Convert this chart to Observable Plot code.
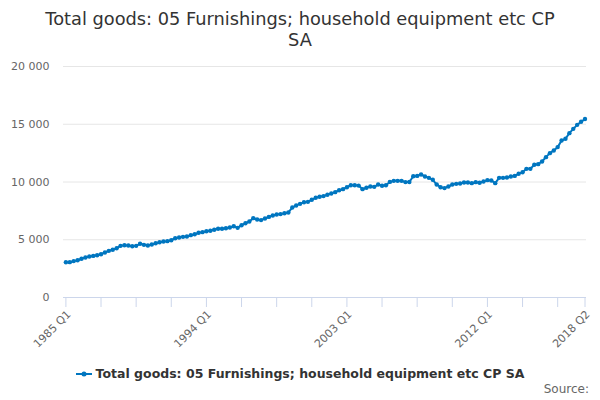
<!DOCTYPE html>
<html>
<head>
<meta charset="utf-8">
<script src="https://cdn.jsdelivr.net/npm/d3@7"></script>
<script src="https://cdn.jsdelivr.net/npm/@observablehq/plot@0.6"></script>
<style>
  html, body { margin: 0; padding: 0; background: #fff; }
  body { width: 600px; height: 400px; position: relative; overflow: hidden; font-family: "DejaVu Sans", sans-serif; }
  #title { position: absolute; top: 8px; left: 0; width: 600px; text-align: center; font-size: 17.8px; line-height: 21px; color: #333; }
  #chart { position: absolute; top: 56px; left: 0; }
  #legend { position: absolute; top: 366px; left: 0; width: 600px; text-align: center; font-size: 12.5px; font-weight: bold; color: #333; }
  #legend svg { vertical-align: middle; margin-right: 4px; position: relative; top: -1px; }
  #source { position: absolute; top: 382px; right: 11px; font-size: 12px; color: #666; }
</style>
</head>
<body>
<div id="title">Total goods: 05 Furnishings; household equipment etc CP<br>SA</div>
<div id="chart"></div>
<div id="legend"><svg width="16" height="8"><line x1="0" y1="4" x2="16" y2="4" stroke="#0076c0" stroke-width="2"/><circle cx="8" cy="4" r="2.5" fill="#0076c0"/></svg>Total goods: 05 Furnishings; household equipment etc CP SA</div>
<div id="source">Source:</div>
<script>
const seriesName = "Total goods: 05 Furnishings; household equipment etc CP SA";
const startYear = 1985;
const values = [
  3050, 3060, 3150, 3230, 3350, 3460, 3550, 3600, 3660, 3750,
  3900, 4040, 4130, 4270, 4470, 4530, 4500, 4440, 4470, 4650,
  4560, 4500, 4590, 4700, 4790, 4850, 4880, 4960, 5130, 5200,
  5250, 5280, 5400, 5480, 5600, 5660, 5740, 5780, 5860, 5950,
  5950, 6000, 6060, 6170, 6030, 6260, 6430, 6580, 6870, 6750,
  6700, 6840, 6980, 7100, 7190, 7220, 7300, 7360, 7790, 7970,
  8110, 8250, 8280, 8460, 8630, 8720, 8780, 8900, 9000, 9120,
  9290, 9380, 9550, 9720, 9720, 9690, 9380, 9500, 9610, 9580,
  9780, 9670, 9720, 10010, 10100, 10100, 10100, 9990, 10000, 10500,
  10530, 10650, 10480, 10360, 10190, 9780, 9550, 9470, 9610, 9780,
  9840, 9870, 9960, 9960, 9900, 9985, 9930, 10040, 10160, 10130,
  9900, 10360, 10360, 10390, 10480, 10530, 10710, 10850, 11140, 11140,
  11490, 11545, 11775, 12150, 12500, 12730, 13020, 13590, 13740, 14230,
  14600, 14950, 15210, 15450
];
const yTicks = [0, 5000, 10000, 15000, 20000];
const tickEvery = 9;
const labelEvery = 36;

const quarterLabel = i => `${startYear + Math.floor(i / 4)} Q${(i % 4) + 1}`;
const data = values.map((v, i) => ({i, label: quarterLabel(i), value: v}));
const last = values.length - 1;
const tickIdx = d3.range(0, last + 1, tickEvery).concat([last]);
const labelIdx = d3.range(0, last + 1, labelEvery).concat([last]);
const fmt = v => d3.format(",")(v).replace(/,/g, " ");
const blue = "#0076c0";

const chart = Plot.plot({
  width: 600,
  height: 300,
  marginTop: 10,
  marginBottom: 59,
  marginLeft: 63,
  marginRight: 14,
  style: {fontFamily: "DejaVu Sans, sans-serif", fontSize: "11px", color: "#666", background: "#fff"},
  x: {domain: [0, last], range: [65.4, 584.5]},
  y: {domain: [0, 20000]},
  marks: [
    Plot.gridY(yTicks, {stroke: "#e6e6e6", strokeOpacity: 1}),
    Plot.axisY(yTicks, {tickSize: 0, tickPadding: 14, tickFormat: fmt, fill: "#666", label: null}),
    Plot.ruleY([0], {stroke: "#ccd6eb", strokeWidth: 1}),
    Plot.axisX(tickIdx, {tickSize: 10, stroke: "#ccd6eb", tickFormat: () => "", label: null}),
    Plot.axisX(labelIdx, {tickSize: 0, tickPadding: 15, dx: 3, tickRotate: -45, tickFormat: quarterLabel, fill: "#666", fontSize: 11, label: null}),
    Plot.line(data, {x: "i", y: "value", stroke: blue, strokeWidth: 2}),
    Plot.dot(data, {x: "i", y: "value", r: 2.2, fill: blue, stroke: "none"})
  ]
});
document.getElementById("chart").appendChild(chart);
</script>
</body>
</html>
